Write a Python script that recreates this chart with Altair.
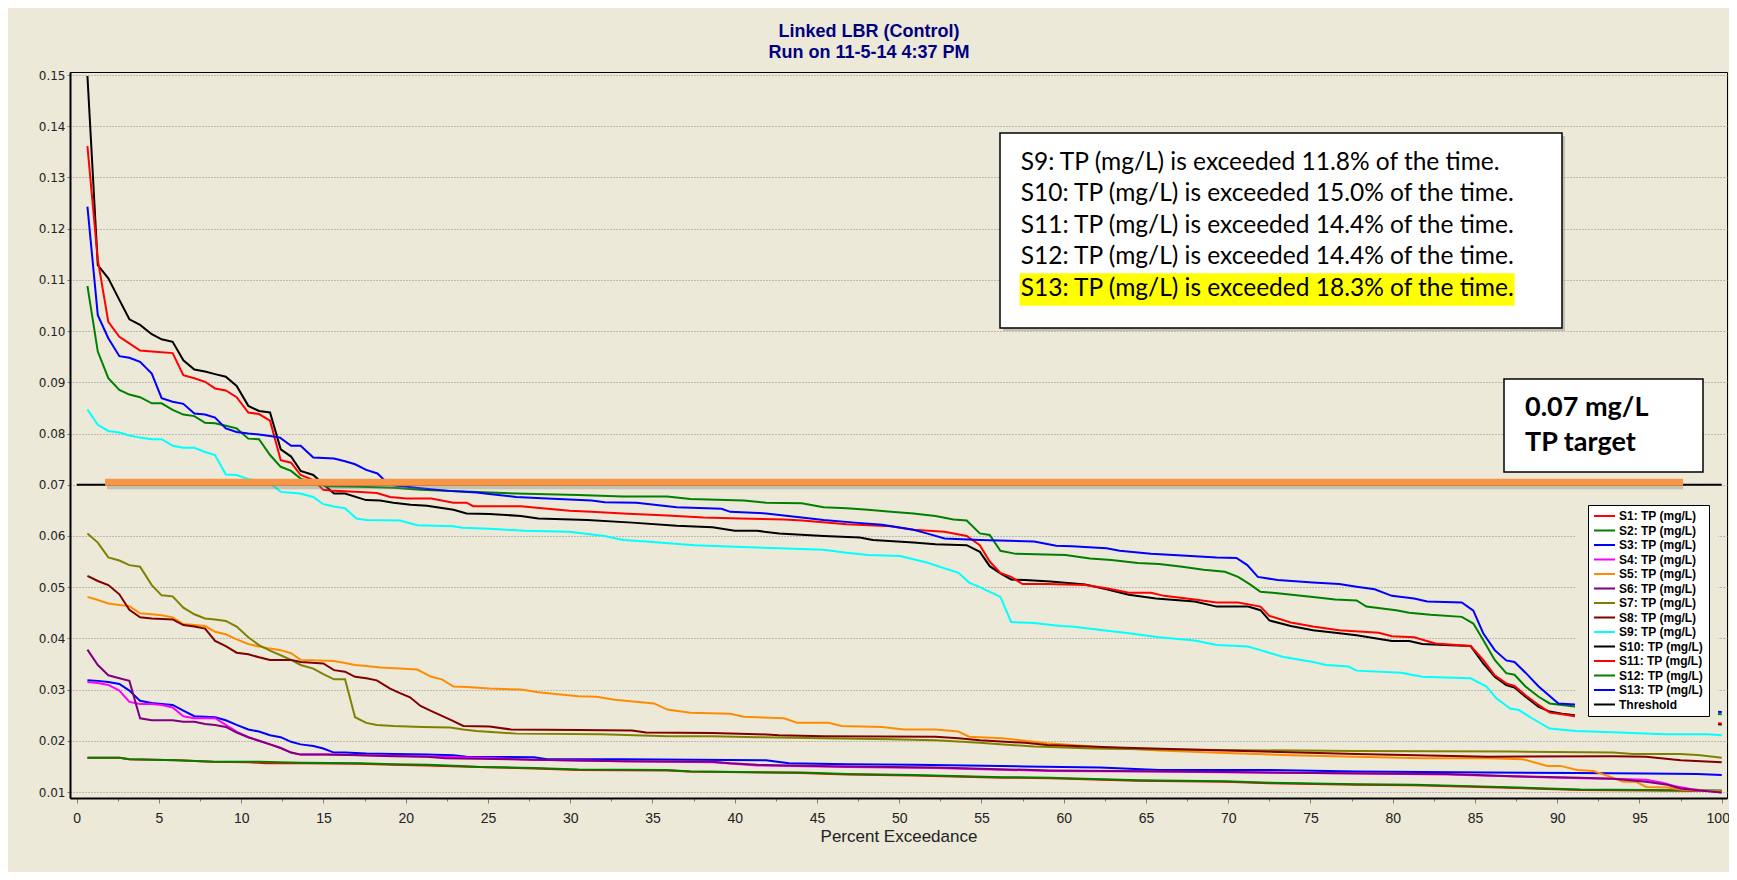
import altair as alt
import pandas as pd

# ---------------- data ----------------
SERIES = ["S1: TP (mg/L)", "S2: TP (mg/L)", "S3: TP (mg/L)", "S4: TP (mg/L)",
          "S5: TP (mg/L)", "S6: TP (mg/L)", "S7: TP (mg/L)", "S8: TP (mg/L)",
          "S9: TP (mg/L)", "S10: TP (mg/L)", "S11: TP (mg/L)", "S12: TP (mg/L)",
          "S13: TP (mg/L)", "Threshold"]
COLORS = ["#FF0000", "#008000", "#0000FF", "#FF00FF", "#FF8C00", "#800080",
          "#808000", "#800000", "#00FFFF", "#000000", "#FF0000", "#008000",
          "#0000FF", "#000000"]

S1 = [(0.65,0.0167),(2.6,0.0167),(3.2,0.0164),(6.1,0.0162),(8.3,0.0159),(10.5,0.0158),(11.5,0.0156),(13.6,0.0156),(17.2,0.0155),(19.25,0.0153),(21.3,0.0152),(23.3,0.0150),(24.5,0.0149),(27.8,0.0146),(30.5,0.0143),(35.9,0.0142),(37.3,0.0140),(44.07,0.0137),(46.8,0.0134),(50.86,0.0132),(56.3,0.0128),(59.17,0.0127),(64.5,0.0122),(69.8,0.0120),(72.5,0.0117),(77.8,0.0114),(81.3,0.0113),(85.3,0.0110),(89.4,0.0106),(91.4,0.0104),(95.4,0.0103),(100,0.0102)]
S2 = [(0.65,0.0167),(2.6,0.0167),(3.2,0.0164),(6.1,0.0162),(8.3,0.0159),(11.1,0.0159),(13.6,0.0157),(17.2,0.0156),(19.25,0.0154),(21.3,0.0153),(23.3,0.0151),(24.5,0.0149),(27.8,0.0147),(30.5,0.0144),(35.9,0.0143),(37.3,0.0140),(44.07,0.0138),(46.8,0.0135),(50.86,0.0133),(56.3,0.0129),(59.17,0.0128),(64.5,0.0123),(69.8,0.0121),(72.5,0.0118),(77.8,0.0115),(81.3,0.0114),(85.3,0.0111),(89.4,0.0107),(91.4,0.0105),(95.4,0.0104),(100,0.0103)]
S3 = [(0.65,0.0318),(1.28,0.0317),(1.92,0.0315),(2.59,0.0311),(3.2,0.0298),(3.85,0.0278),(4.56,0.0274),(5.16,0.0272),(5.83,0.0270),(6.48,0.0259),(7.15,0.0248),(8.41,0.0246),(9.06,0.0240),(9.72,0.0231),(10.43,0.0222),(11.08,0.0218),(11.75,0.0211),(12.4,0.0207),(13.03,0.0198),(13.61,0.0193),(14.38,0.0190),(14.99,0.0185),(15.64,0.0177),(16.31,0.0177),(17.6,0.0175),(19.25,0.0174),(21.27,0.0173),(22.9,0.0172),(23.7,0.0169),(27.8,0.0168),(28.6,0.0164),(33.2,0.0164),(41.9,0.0162),(43.3,0.0156),(46.8,0.0154),(50.86,0.0153),(57.65,0.0150),(62.2,0.0148),(65.8,0.0143),(72.5,0.0143),(77.8,0.0140),(85.8,0.0138),(91.1,0.0137),(95.4,0.0136),(98.5,0.0135),(100,0.0133)]
S4 = [(0.65,0.0315),(1.28,0.0313),(1.92,0.0309),(2.59,0.0298),(3.2,0.0276),(3.85,0.0272),(4.56,0.0272),(5.16,0.0270),(5.83,0.0265),(6.48,0.0248),(7.15,0.0244),(8.41,0.0244),(9.06,0.0231),(9.72,0.0218),(10.43,0.0207),(11.08,0.0200),(11.75,0.0193),(12.4,0.0186),(13.03,0.0177),(13.61,0.0173),(15.2,0.0173),(19.25,0.0171),(24.5,0.0167),(27.8,0.0163),(33.2,0.0160),(38.65,0.0158),(41.36,0.0152),(46.8,0.0149),(52.2,0.0147),(59.17,0.0141),(65.3,0.0140),(75.15,0.0137),(83.3,0.0134),(91.4,0.0127),(93.4,0.0126),(95.4,0.0124),(96.4,0.0118),(97.1,0.0112),(98.1,0.0106),(100,0.0099)]
S5 = [(0.65,0.0481),(1.28,0.0475),(1.92,0.0468),(2.59,0.0465),(3.2,0.0463),(3.85,0.0449),(4.56,0.0447),(5.16,0.0445),(5.83,0.0441),(6.48,0.0428),(7.15,0.0426),(7.8,0.0424),(8.41,0.0413),(9.06,0.0408),(9.72,0.0398),(10.43,0.0389),(11.08,0.0384),(11.75,0.0380),(12.4,0.0377),(13.03,0.0371),(13.61,0.0358),(15.64,0.0356),(16.31,0.0352),(16.92,0.0348),(17.6,0.0346),(18.44,0.0343),(19.65,0.0341),(20.7,0.0339),(21.55,0.0325),(22.2,0.0320),(22.9,0.0306),(23.7,0.0305),(25.1,0.0302),(27.0,0.0300),(28.06,0.0295),(30.5,0.0287),(31.6,0.0286),(32.7,0.0280),(35.1,0.0273),(35.9,0.0261),(37.3,0.0255),(39.73,0.0253),(40.55,0.0247),(43.0,0.0244),(43.8,0.0235),(45.7,0.0235),(46.5,0.0229),(48.96,0.0227),(50.3,0.0222),(52.2,0.0222),(53.6,0.0218),(54.25,0.0208),(56.3,0.0205),(59.0,0.0195),(61.8,0.0189),(65.8,0.0181),(69.8,0.0176),(73.8,0.0172),(77.8,0.0169),(81.8,0.0166),(85.8,0.0166),(87.9,0.0164),(89.4,0.0151),(90.2,0.0151),(91.2,0.0143),(92.2,0.0141),(93.2,0.0130),(94.0,0.0120),(94.8,0.0120),(95.4,0.0110),(96.7,0.0109),(97.5,0.0105),(98.7,0.0103),(100,0.0101)]
S6 = [(0.65,0.0378),(1.28,0.0348),(1.92,0.0328),(2.59,0.0322),(3.2,0.0317),(3.85,0.0244),(4.56,0.0240),(5.83,0.0240),(6.48,0.0237),(7.15,0.0237),(7.8,0.0233),(8.41,0.0231),(9.06,0.0227),(9.72,0.0216),(10.43,0.0207),(11.08,0.0200),(11.75,0.0193),(12.4,0.0186),(13.03,0.0177),(13.61,0.0173),(14.99,0.0173),(17.2,0.0172),(19.25,0.0170),(21.27,0.0169),(22.4,0.0166),(27.8,0.0163),(33.2,0.0160),(38.65,0.0159),(39.73,0.0156),(41.36,0.0153),(46.8,0.0150),(52.2,0.0148),(59.17,0.0142),(67.2,0.0140),(75.15,0.0137),(83.3,0.0135),(87.3,0.0131),(91.4,0.0128),(93.4,0.0126),(95.4,0.0120),(96.7,0.0114),(97.5,0.0107),(98.7,0.0103),(100,0.0099)]
S7 = [(0.65,0.0605),(1.28,0.0587),(1.92,0.0558),(2.59,0.0552),(3.2,0.0543),(3.85,0.0540),(4.56,0.0504),(5.16,0.0484),(5.83,0.0482),(6.48,0.0460),(7.15,0.0447),(7.8,0.0439),(8.41,0.0437),(9.06,0.0434),(9.72,0.0423),(10.43,0.0402),(11.08,0.0387),(11.75,0.0376),(12.4,0.0367),(13.03,0.0358),(13.61,0.0348),(14.38,0.0341),(14.99,0.0330),(15.64,0.0320),(16.31,0.0320),(16.92,0.0246),(17.6,0.0235),(18.24,0.0231),(19.25,0.0229),(21.0,0.0227),(22.7,0.0226),(23.5,0.0222),(24.3,0.0219),(26.7,0.0214),(31.9,0.0213),(35.9,0.0209),(38.65,0.0209),(41.36,0.0207),(45.4,0.0205),(49.5,0.0203),(52.2,0.0201),(54.9,0.0196),(55.7,0.0194),(58.2,0.0189),(61.8,0.0185),(65.8,0.0183),(69.8,0.0182),(77.8,0.0180),(87.3,0.0179),(93.4,0.0177),(94.6,0.0174),(97.5,0.0174),(98.7,0.0172),(100,0.0167)]
S8 = [(0.65,0.0522),(1.28,0.0512),(1.92,0.0504),(2.59,0.0486),(3.2,0.0456),(3.85,0.0441),(4.56,0.0439),(5.83,0.0437),(6.48,0.0426),(7.15,0.0423),(7.8,0.0419),(8.41,0.0395),(9.06,0.0385),(9.72,0.0372),(10.43,0.0369),(11.08,0.0363),(11.75,0.0358),(13.03,0.0358),(13.61,0.0354),(14.99,0.0351),(15.64,0.0338),(16.31,0.0335),(16.92,0.0325),(17.6,0.0322),(18.24,0.0318),(19.05,0.0302),(19.65,0.0293),(20.26,0.0285),(20.9,0.0268),(21.5,0.0259),(22.1,0.0250),(22.8,0.0240),(23.5,0.0229),(25.1,0.0228),(26.4,0.0222),(30.5,0.0221),(33.76,0.0220),(34.6,0.0216),(38.65,0.0215),(41.36,0.0213),(42.7,0.0211),(45.4,0.0209),(52.2,0.0208),(53.6,0.0205),(54.9,0.0201),(57.65,0.0196),(59.0,0.0192),(63.2,0.0187),(69.8,0.0181),(77.8,0.0174),(85.8,0.0169),(93.4,0.0170),(95.4,0.0169),(97.5,0.0162),(100,0.0158)]
S9 = [(0.65,0.0847),(1.28,0.0817),(1.92,0.0805),(2.59,0.0802),(3.2,0.0796),(3.85,0.0792),(4.56,0.0789),(5.16,0.0789),(5.83,0.0776),(6.48,0.0772),(7.15,0.0772),(7.8,0.0764),(8.41,0.0758),(9.06,0.0720),(9.72,0.0719),(10.43,0.0711),(11.75,0.0703),(12.4,0.0686),(13.57,0.0683),(14.38,0.0676),(14.99,0.0662),(15.7,0.0657),(16.31,0.0654),(17.0,0.0634),(17.6,0.0631),(19.65,0.0630),(20.7,0.0621),(22.9,0.0619),(23.45,0.0616),(25.1,0.0614),(27.25,0.0610),(29.96,0.0608),(31.05,0.0604),(32.1,0.0600),(33.2,0.0592),(34.6,0.0589),(37.56,0.0582),(40.0,0.0579),(42.7,0.0576),(45.4,0.0573),(46.8,0.0567),(48.1,0.0563),(50.05,0.0561),(51.67,0.0548),(53.6,0.0528),(54.25,0.0509),(54.9,0.0500),(56.15,0.0481),(56.8,0.0432),(58.2,0.0430),(59.8,0.0424),(60.5,0.0423),(62.4,0.0416),(63.96,0.0410),(65.8,0.0402),(67.96,0.0396),(69.3,0.0387),(71.2,0.0384),(71.96,0.0377),(73.3,0.0364),(75.15,0.0354),(75.95,0.0348),(77.3,0.0345),(77.8,0.0337),(80.5,0.0333),(81.8,0.0325),(84.74,0.0322),(85.7,0.0306),(86.3,0.0283),(87.14,0.0263),(87.67,0.0260),(88.47,0.0244),(89.54,0.0224),(91.14,0.0219),(93.8,0.0216),(96.5,0.0213),(99.1,0.0213),(100,0.0211)]
S10 = [(0.65,0.1498),(1.28,0.1129),(1.92,0.1103),(2.59,0.1061),(3.2,0.1023),(3.85,0.1012),(4.56,0.0994),(5.16,0.0984),(5.83,0.0979),(6.48,0.0943),(7.15,0.0925),(7.8,0.0921),(8.41,0.0916),(9.06,0.0911),(9.72,0.0893),(10.43,0.0854),(11.08,0.0844),(11.75,0.0841),(12.4,0.0769),(13.03,0.0755),(13.61,0.0727),(14.38,0.0719),(14.99,0.0701),(15.64,0.0683),(16.31,0.0683),(17.59,0.0670),(18.44,0.0669),(19.25,0.0665),(20.3,0.0661),(21.3,0.0659),(22.9,0.0651),(23.7,0.0644),(25.1,0.0643),(27.0,0.0639),(28.06,0.0634),(31.05,0.0631),(33.76,0.0626),(36.47,0.0620),(38.65,0.0617),(40.0,0.0610),(41.36,0.0610),(42.7,0.0605),(45.4,0.0600),(47.6,0.0597),(48.4,0.0592),(50.86,0.0587),(52.2,0.0584),(54.1,0.0582),(54.9,0.0569),(55.5,0.0541),(56.15,0.0527),(56.8,0.0515),(57.65,0.0514),(59.2,0.0511),(61.3,0.0505),(62.6,0.0496),(63.96,0.0485),(65.6,0.0478),(67.96,0.0472),(69.3,0.0462),(71.2,0.0462),(71.96,0.0455),(72.5,0.0435),(73.8,0.0424),(75.15,0.0416),(76.5,0.0411),(77.8,0.0406),(79.95,0.0395),(81.0,0.0395),(81.8,0.0389),(83.15,0.0387),(84.74,0.0385),(85.5,0.0351),(86.2,0.0325),(86.9,0.0309),(87.4,0.0304),(88.07,0.0286),(88.87,0.0266),(89.54,0.0257),(90.3,0.0253),(91.06,0.0250),(100,0.0232)]
S11 = [(0.65,0.1361),(1.28,0.1139),(1.92,0.1018),(2.59,0.0989),(3.2,0.0976),(3.85,0.0962),(4.56,0.0960),(5.83,0.0957),(6.48,0.0914),(7.15,0.0908),(7.8,0.0901),(8.41,0.0888),(9.06,0.0884),(9.72,0.0871),(10.43,0.0841),(11.08,0.0838),(11.75,0.0825),(12.4,0.0748),(13.03,0.0743),(13.61,0.0719),(14.38,0.0709),(14.99,0.0690),(15.64,0.0688),(17.22,0.0686),(18.24,0.0684),(19.05,0.0676),(20.05,0.0673),(21.55,0.0673),(22.9,0.0665),(23.7,0.0665),(24.1,0.0658),(27.0,0.0658),(28.3,0.0654),(29.96,0.0649),(31.3,0.0647),(33.2,0.0644),(35.9,0.0640),(38.1,0.0636),(40.3,0.0634),(43.0,0.0632),(44.1,0.0630),(46.8,0.0623),(49.5,0.0619),(50.86,0.0612),(52.76,0.0608),(54.1,0.0600),(54.9,0.0582),(55.5,0.0550),(56.15,0.0528),(56.8,0.0520),(57.5,0.0506),(59.0,0.0506),(61.3,0.0504),(62.6,0.0498),(63.96,0.0489),(65.3,0.0489),(66.1,0.0483),(67.96,0.0476),(69.3,0.0470),(70.6,0.0470),(71.96,0.0462),(72.5,0.0444),(73.8,0.0431),(75.15,0.0423),(76.75,0.0416),(79.15,0.0411),(79.95,0.0404),(81.3,0.0402),(82.6,0.0390),(84.74,0.0385),(85.5,0.0358),(86.2,0.0328),(86.9,0.0312),(87.4,0.0307),(88.07,0.0289),(88.87,0.0270),(89.54,0.0255),(90.3,0.0252),(91.06,0.0248),(100,0.0234)]
S12 = [(0.65,0.1088),(1.28,0.0960),(1.92,0.0908),(2.59,0.0885),(3.2,0.0876),(3.85,0.0871),(4.56,0.0859),(5.16,0.0859),(5.83,0.0846),(6.48,0.0837),(7.15,0.0834),(7.8,0.0821),(8.41,0.0820),(9.06,0.0815),(9.72,0.0810),(10.43,0.0790),(11.08,0.0789),(11.75,0.0758),(12.4,0.0735),(13.03,0.0727),(13.61,0.0712),(14.38,0.0704),(15.2,0.0697),(17.2,0.0696),(19.25,0.0694),(20.9,0.0690),(22.4,0.0688),(26.7,0.0683),(30.5,0.0680),(33.2,0.0677),(35.9,0.0677),(37.3,0.0672),(40.55,0.0669),(41.9,0.0665),(44.07,0.0664),(45.4,0.0656),(46.8,0.0654),(48.1,0.0651),(49.5,0.0647),(50.86,0.0644),(52.2,0.0639),(53.3,0.0632),(54.1,0.0630),(54.9,0.0605),(55.5,0.0602),(56.15,0.0571),(57.1,0.0565),(60.1,0.0563),(61.6,0.0556),(62.9,0.0553),(64.5,0.0547),(65.8,0.0545),(67.2,0.0540),(68.5,0.0534),(69.8,0.0530),(70.6,0.0520),(71.3,0.0506),(71.96,0.0491),(73.0,0.0488),(75.15,0.0481),(76.5,0.0476),(77.8,0.0474),(78.4,0.0462),(80.2,0.0455),(81.0,0.0450),(82.3,0.0446),(84.2,0.0442),(84.9,0.0429),(85.5,0.0397),(86.2,0.0358),(86.9,0.0332),(87.4,0.0329),(88.07,0.0306),(88.87,0.0286),(89.54,0.0273),(91.06,0.0267),(100,0.0252)]
S13 = [(0.65,0.1243),(1.28,0.1031),(1.92,0.0986),(2.59,0.0951),(3.2,0.0948),(3.85,0.0940),(4.56,0.0917),(5.16,0.0869),(5.83,0.0862),(6.48,0.0858),(7.15,0.0839),(7.8,0.0837),(8.41,0.0831),(9.06,0.0810),(9.72,0.0803),(10.43,0.0800),(11.08,0.0798),(11.75,0.0795),(12.36,0.0792),(13.03,0.0776),(13.61,0.0776),(14.38,0.0753),(15.64,0.0751),(16.31,0.0746),(16.92,0.0740),(17.6,0.0729),(18.28,0.0722),(18.74,0.0708),(19.25,0.0699),(20.9,0.0693),(22.6,0.0688),(24.3,0.0685),(25.35,0.0681),(26.7,0.0676),(28.6,0.0673),(31.3,0.0669),(32.1,0.0666),(34.03,0.0665),(36.47,0.0656),(39.2,0.0653),(39.73,0.0647),(41.9,0.0644),(44.07,0.0636),(45.4,0.0631),(47.3,0.0626),(48.96,0.0622),(50.86,0.0612),(51.67,0.0605),(52.76,0.0595),(54.9,0.0592),(58.2,0.0589),(59.54,0.0581),(60.5,0.0580),(62.6,0.0576),(63.4,0.0571),(65.3,0.0565),(67.2,0.0562),(69.3,0.0558),(70.5,0.0557),(71.16,0.0543),(71.8,0.0520),(73.0,0.0514),(75.15,0.0509),(76.75,0.0506),(77.8,0.0501),(78.9,0.0496),(79.95,0.0483),(81.3,0.0478),(82.1,0.0472),(84.2,0.0470),(84.9,0.0454),(85.5,0.0410),(86.2,0.0377),(86.9,0.0357),(87.4,0.0354),(88.07,0.0333),(88.87,0.0306),(90.07,0.0273),(91.06,0.0271),(100,0.0256)]
THRESHOLD = [(0, 0.07), (100, 0.07)]

# hand-drawn orange target bar (percent start, percent end, level)
TARGET_X = [1.72, 97.65]
TARGET_LEVEL = 0.0705

TITLE_LINES = ["Linked LBR (Control)", "Run on 11-5-14 4:37 PM"]
NOTE_LINES = ["S9: TP (mg/L) is exceeded 11.8% of the time.",
              "S10: TP (mg/L) is exceeded 15.0% of the time.",
              "S11: TP (mg/L) is exceeded 14.4% of the time.",
              "S12: TP (mg/L) is exceeded 14.4% of the time.",
              "S13: TP (mg/L) is exceeded 18.3% of the time."]
TARGET_LINES = ["0.07 mg/L", "TP target"]
Y_TICKS = [0.01, 0.02, 0.03, 0.04, 0.05, 0.06, 0.07, 0.08, 0.09, 0.10,
           0.11, 0.12, 0.13, 0.14, 0.15]

# ---------------- build table ----------------
rows = []
for name, pts in zip(SERIES, [S1, S2, S3, S4, S5, S6, S7, S8, S9, S10, S11, S12, S13, THRESHOLD]):
    for i, (px, val) in enumerate(pts):
        rows.append({"series": name, "pct": px, "tp": val, "idx": i})
df = pd.DataFrame(rows)
target_df = pd.DataFrame([{"x1": TARGET_X[0], "x2": TARGET_X[1], "lvl": TARGET_LEVEL}])

XSCALE = alt.Scale(domain=[-0.41, 100.32], nice=False, zero=False)
YSCALE = alt.Scale(domain=[0.00883, 0.15059], nice=False, zero=False)
ONE = alt.Data(values=[{}])

x_axis = alt.Axis(
    values=[i * 1.25 for i in range(81)],
    labelExpr="datum.value % 5 === 0 ? format(datum.value, 'd') : ''",
    tickSize={"condition": {"test": "datum.value % 5 === 0", "value": 5}, "value": 3},
    labelOffset={"condition": {"test": "datum.value === 100", "value": -4}, "value": 0},
    tickColor="#808080", domainColor="#000000", domainWidth=2,
    labelFont="Liberation Sans", labelFontSize=14, labelColor="#222222",
    labelPadding=8, labelOverlap=False, labelFlush=False, grid=False,
    title="Percent Exceedance", titleFont="Liberation Sans", titleFontSize=17,
    titleFontWeight="normal", titleColor="#222222", titlePadding=3)
y_axis = alt.Axis(
    values=Y_TICKS, format=".2f", tickSize=3, tickColor="#808080",
    domainColor="#000000", domainWidth=2,
    labelFont="DejaVu Sans", labelFontSize=12, labelColor="#222222", labelPadding=2,
    grid=True, gridColor="#8c8c8c", gridDash=[1, 2], gridWidth=1, title="")

lines = alt.Chart(df).mark_line(strokeWidth=2, strokeCap="butt").encode(
    x=alt.X("pct:Q", scale=XSCALE, axis=x_axis),
    y=alt.Y("tp:Q", scale=YSCALE, axis=y_axis),
    color=alt.Color("series:N", scale=alt.Scale(domain=SERIES, range=COLORS), sort=SERIES,
                    title=None,
                    legend=alt.Legend(orient="none", legendX=1518, legendY=433,
                                      symbolType="stroke", symbolSize=441, symbolStrokeWidth=2,
                                      labelFont="Liberation Sans", labelFontSize=12,
                                      labelFontWeight="bold", labelColor="#000000",
                                      fillColor="#FFFFFF", strokeColor="#000000",
                                      padding=5, rowPadding=2.5, clipHeight=12,
                                      labelOffset=3, symbolLimit=20)),
    order="idx:Q",
)

target_shadow = alt.Chart(target_df).mark_rule(strokeWidth=6, color="#7a7a6a", opacity=0.35, yOffset=4, xOffset=2).encode(
    x=alt.X("x1:Q", scale=XSCALE), x2="x2:Q", y=alt.Y("lvl:Q", scale=YSCALE))
target_bar = alt.Chart(target_df).mark_rule(strokeWidth=7, color="#F79646").encode(
    x=alt.X("x1:Q", scale=XSCALE), x2="x2:Q", y=alt.Y("lvl:Q", scale=YSCALE))

def box(x1, x2, y1, y2, fill, stroke=None, opacity=1.0):
    kw = dict(fill=fill, opacity=opacity)
    if stroke:
        kw.update(stroke=stroke, strokeWidth=1.5)
    return alt.Chart(ONE).mark_rect(**kw).encode(
        x=alt.value(x1), x2=alt.value(x2), y=alt.value(y1), y2=alt.value(y2))

def label(txt, x, y, size, weight="normal", font="Lato", color="#000000", align="left"):
    return alt.Chart(ONE).mark_text(text=txt, font=font, fontSize=size, fontWeight=weight,
                                    color=color, align=align, baseline="middle").encode(
        x=alt.value(x), y=alt.value(y))

# beige panel behind the legend (hides lines and grid there, as in the original)
legend_panel = box(1505, 1648, 420, 657, "#ECE9D8")
legend_shadow = box(1521, 1639, 436, 644, "#8a8878", opacity=0.6)

note_shadow = box(933, 1495, 64, 259, "#9a9888", opacity=0.5)
note_box = box(930, 1492, 61, 256, "#FFFFFF", "#000000")
note_hl = box(949.6, 1444.6, 201.3, 233.7, "#FFFF00")
note_texts = [label(t, 950.7, 90.5 + 31.5 * i, 24.5) for i, t in enumerate(NOTE_LINES)]

tgt_box = box(1434, 1633, 307, 400, "#FFFFFF", "#000000")
tgt_texts = [label(TARGET_LINES[0], 1455, 336, 27, "bold"),
             label(TARGET_LINES[1], 1455, 370.5, 27, "bold")]

titles = [label(TITLE_LINES[0], 799, -40.3, 18, "bold", "Liberation Sans", "#000080", "center"),
          label(TITLE_LINES[1], 799, -19.3, 18, "bold", "Liberation Sans", "#000080", "center")]

chart = alt.layer(
    lines, target_shadow, target_bar, legend_panel, legend_shadow,
    note_shadow, note_box, note_hl, *note_texts,
    tgt_box, *tgt_texts, *titles
).properties(
    width=1657, height=726,
    padding={"left": 62, "top": 64, "right": 2, "bottom": 74},
    autosize=alt.AutoSizeParams(type="none"),
    background="#ECE9D8",
).configure_view(stroke="#000000", strokeWidth=1)

chart.save("out.html", embed_options={"renderer": "svg", "actions": False})
